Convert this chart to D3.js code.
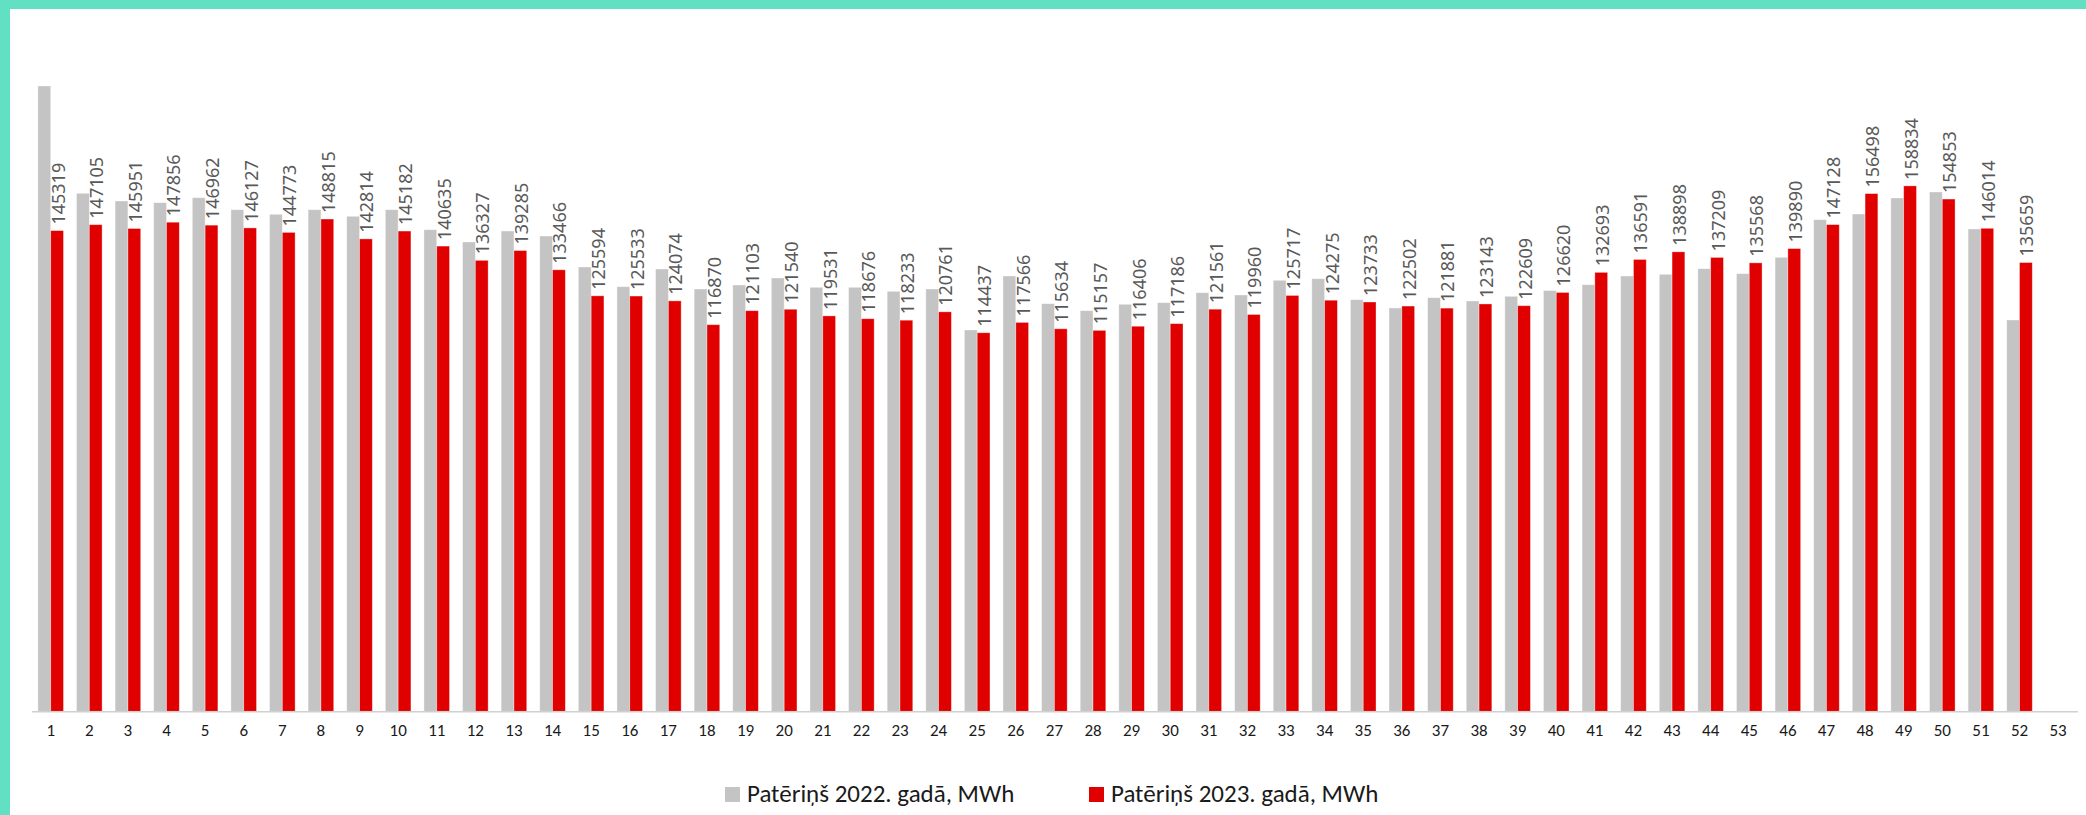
<!DOCTYPE html>
<html>
<head>
<meta charset="utf-8">
<script src="https://cdn.jsdelivr.net/npm/d3@7"></script>
<style>
  html, body { margin: 0; padding: 0; background: #ffffff; }
  svg { display: block; }
</style>
</head>
<body>
<div id="chart"></div>
<script>
const weeks = d3.range(1, 54).map(String);
const consumption2022 = [189030,156590,154260,153750,155260,151630,150240,151630,149640,151630,
  145590,141870,145190,143680,134310,128360,133710,127660,128870,130990,
  128170,128170,126960,127660,115270,131590,123220,121100,123040,123520,
  126540,125850,130290,130770,124430,121920,125030,124030,125450,127200,
  128960,131590,132100,133800,132290,137240,148610,150330,155170,156990,145800,118290,null];
const consumption2023 = [145319,147105,145951,147856,146962,146127,144773,148815,142814,145182,
  140635,136327,139285,133466,125594,125533,124074,116870,121103,121540,
  119531,118676,118233,120761,114437,117566,115634,115157,116406,117186,
  121561,119960,125717,124275,123733,122502,121881,123143,122609,126620,
  132693,136591,138898,137209,135568,139890,147128,156498,158834,154853,146014,135659,null];
const seriesNames = ["Patēriņš 2022. gadā, MWh", "Patēriņš 2023. gadā, MWh"];
const seriesKeys = ["y2022", "y2023"];
const seriesColors = ["#c4c4c4", "#e00000"];

const W = 2086, H = 815;
const rows = weeks.map((w, i) => ({ week: w, y2022: consumption2022[i], y2023: consumption2023[i] }));

const svg = d3.select("#chart").append("svg").attr("width", W).attr("height", H);

const x = d3.scaleBand().domain(weeks).range([31.4, 2077.4]).paddingInner(0.337).paddingOuter(0.1685);
const xs = d3.scaleBand().domain(seriesKeys).range([0, x.bandwidth()]);
const y = d3.scaleLinear().domain([0, 200000]).range([711.3, 49.7]);
const color = d3.scaleOrdinal().domain(seriesKeys).range(seriesColors);

// bars
const groups = svg.append("g").selectAll("g").data(rows).join("g")
  .attr("transform", d => `translate(${x(d.week)},0)`);
groups.selectAll("rect")
  .data(d => seriesKeys.map(k => ({ key: k, value: d[k] })).filter(e => e.value != null))
  .join("rect")
  .attr("x", e => xs(e.key))
  .attr("width", xs.bandwidth())
  .attr("y", e => y(e.value))
  .attr("height", e => y(0) - y(e.value))
  .attr("fill", e => color(e.key))
  .attr("stroke", "rgba(255,255,255,0.45)")
  .attr("stroke-width", 0.8);

// data labels on 2023 bars
groups.filter(d => d.y2023 != null).append("text")
  .attr("transform", d => `translate(${xs("y2023") + xs.bandwidth() / 2 + 0.5},${y(d.y2023) - 6}) rotate(-90)`)
  .attr("text-anchor", "start")
  .attr("dominant-baseline", "central")
  .style("font-family", "'Noto Sans', 'Open Sans', sans-serif")
  .style("font-size", "18px")
  .style("fill", "#595959")
  .text(d => d.y2023);

// x axis
const axis = svg.append("g").attr("transform", `translate(0,${y(0)})`)
  .call(d3.axisBottom(x).tickSize(0).tickPadding(13));
axis.select(".domain").attr("stroke", "#d0d0d0").attr("stroke-width", 1.5);
axis.selectAll("text")
  .style("font-family", "Carlito, Lato, 'Liberation Sans Narrow', sans-serif")
  .style("font-size", "17px")
  .style("fill", "#1a1a1a");

// legend
const legend = svg.append("g");
const legendX = [725, 1089];
seriesKeys.forEach((k, i) => {
  legend.append("rect").attr("x", legendX[i]).attr("y", 787).attr("width", 15).attr("height", 15).attr("fill", color(k));
  legend.append("text").attr("x", legendX[i] + 22).attr("y", 802)
    .style("font-family", "Carlito, Lato, 'Liberation Sans Narrow', sans-serif")
    .style("font-size", "25px")
    .style("fill", "#1a1a1a")
    .text(seriesNames[i]);
});

// teal frame (top and left)
svg.append("rect").attr("x", 0).attr("y", 0).attr("width", W).attr("height", 9).attr("fill", "#62e0c4");
svg.append("rect").attr("x", 0).attr("y", 0).attr("width", 10).attr("height", H).attr("fill", "#62e0c4");
</script>
</body>
</html>
